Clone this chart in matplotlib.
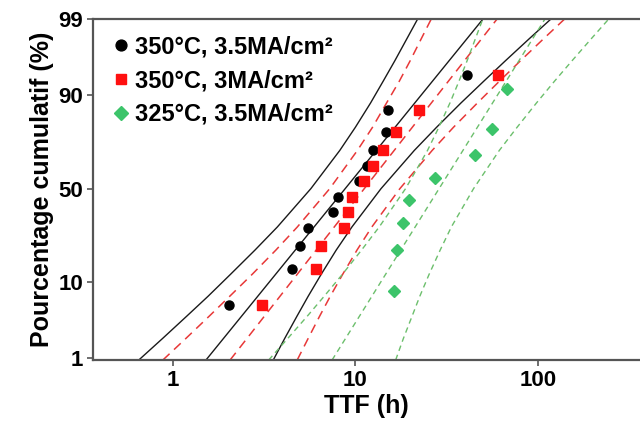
import numpy as np
import matplotlib
matplotlib.use("Agg")
import matplotlib.pyplot as plt
from statistics import NormalDist

plt.rcParams['font.family'] = ['Liberation Sans', 'DejaVu Sans']
plt.rcParams['font.weight'] = 'bold'

# data points (TTF in h, cumulative %)
pct_12 = [5.5, 13.5, 21.5, 29.5, 37.5, 45.5, 54, 62, 70, 78, 86, 94]
pct_8 = [8, 20, 32, 44, 56, 68, 79.5, 91.5]
ttf_350_35 = [2.03, 4.51, 4.98, 5.52, 7.56, 8.05, 10.4, 11.6, 12.4, 14.7, 15.1, 41.0]
ttf_350_3 = [3.07, 6.08, 6.50, 8.61, 9.05, 9.57, 11.1, 12.5, 14.1, 16.7, 22.4, 60.1]
ttf_325_35 = [16.3, 16.8, 18.3, 19.6, 27.4, 45.3, 56.2, 67.6]

# fit lines (two ends)
fit_pct = [0.94, 99]
fit_350_35 = [1.52, 49.9]
fit_350_3 = [2.06, 59.6]
fit_325_35 = [7.45, 109]

# confidence bounds
bnd_pct = [0.94, 2, 4, 7, 12, 20, 30, 50, 70, 80, 88, 93, 96, 98, 99]
lo_350_35 = [0.652, 0.880, 1.19, 1.56, 2.07, 2.82, 3.74, 5.70, 8.21, 9.99,
             12.1, 14.2, 16.4, 19.1, 21.9]
hi_350_35 = [3.55, 4.10, 4.78, 5.51, 6.49, 7.85, 9.57, 13.8, 21.0, 27.8,
             37.8, 50.5, 66.0, 89.2, 117.5]
lo_350_3 = [0.883, 1.18, 1.58, 2.05, 2.72, 3.67, 4.81, 7.23, 10.25, 12.4,
            14.8, 17.4, 19.9, 22.9, 26.0]
hi_350_3 = [4.80, 5.51, 6.36, 7.28, 8.51, 10.2, 12.3, 17.5, 26.3, 34.4,
            46.5, 61.5, 79.8, 106.9, 139.6]
lo_325_35 = [3.35, 4.26, 5.44, 6.74, 8.48, 10.8, 13.5, 18.8, 24.8, 28.6,
             32.9, 36.9, 40.8, 45.3, 49.8]
hi_325_35 = [16.6, 18.3, 20.4, 22.5, 25.3, 29.1, 33.5, 44.3, 61.3, 76.7,
             97.9, 123.1, 152.9, 195.0, 243.5]

labels = ["350°C, 3.5MA/cm²", "350°C, 3MA/cm²", "325°C, 3.5MA/cm²"]
yticks = [1, 10, 50, 90, 99]

nd = NormalDist()
_ppf = np.vectorize(nd.inv_cdf, otypes=[float])
_cdf = np.vectorize(nd.cdf, otypes=[float])


def probit(p):
    p = np.clip(np.asarray(p, dtype=float) / 100.0, 1e-9, 1 - 1e-9)
    return _ppf(p)


def inv_probit(z):
    return _cdf(np.asarray(z, dtype=float)) * 100.0


fig = plt.figure(figsize=(6.4, 4.29), dpi=100)
ax = fig.add_axes([0.1453, 0.1608, 0.8547, 0.7949])
ax.set_xscale('log')
ax.set_yscale('function', functions=(probit, inv_probit))

blk = '#1a1a1a'
red = '#e83838'
grn = '#6cbf6c'

ax.plot(fit_350_35, fit_pct, color=blk, lw=1)
ax.plot(lo_350_35, bnd_pct, color=blk, lw=1)
ax.plot(hi_350_35, bnd_pct, color=blk, lw=1)

for xs, ys in [(fit_350_3, fit_pct), (lo_350_3, bnd_pct), (hi_350_3, bnd_pct)]:
    ax.plot(xs, ys, color=red, lw=1.1, dashes=(6, 4))

for xs, ys in [(fit_325_35, fit_pct), (lo_325_35, bnd_pct), (hi_325_35, bnd_pct)]:
    ax.plot(xs, ys, color=grn, lw=1, dashes=(4, 3))

ax.plot(ttf_350_35, pct_12, 'o', color='black', ms=6.5, label=labels[0])
ax.plot(ttf_350_3, pct_12, 's', color='#ff1010', ms=6.5, label=labels[1])
ax.plot(ttf_325_35, pct_8, 'D', color='#3cc46a', ms=6, label=labels[2])

ax.set_xlim(0.366, 361)
ax.set_ylim(0.94, 99)
ax.set_yticks(yticks)
ax.set_yticklabels([str(t) for t in yticks])
ax.yaxis.set_minor_locator(matplotlib.ticker.NullLocator())
ax.xaxis.set_minor_locator(matplotlib.ticker.NullLocator())
ax.set_xticks([1, 10, 100])
ax.set_xticklabels(['1', '10', '100'])

for s in ['left', 'bottom', 'top']:
    ax.spines[s].set_color('#555555')
    ax.spines[s].set_linewidth(1.6)
ax.spines['right'].set_visible(False)
ax.tick_params(direction='out', length=4, width=1.2, color='#555555', labelsize=16, pad=3)

ax.set_xlabel("TTF (h)", fontsize=18, fontweight='bold', labelpad=2)
ax.set_ylabel("Pourcentage cumulatif (%)", fontsize=18, fontweight='bold', labelpad=3)

ax.legend(loc='upper left', frameon=False, handletextpad=0.1,
          handlelength=1.0, borderaxespad=0.3, labelspacing=0.45, markerscale=1.2,
          prop={'weight': 'bold', 'size': 17})

fig.savefig("out.png", dpi=100)
